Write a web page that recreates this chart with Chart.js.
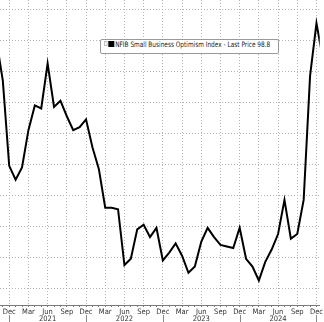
<!DOCTYPE html>
<html>
<head>
<meta charset="utf-8">
<script src="https://cdn.jsdelivr.net/npm/chart.js@4"></script>
<style>
  html, body { margin: 0; padding: 0; background: #fff; }
  #wrap { position: relative; width: 324px; height: 322px; overflow: hidden; }
  #legend {
    position: absolute; left: 100px; top: 39px; width: 177px; height: 13px;
    background: #fff; border: 1px solid #9a9a9a; border-radius: 2px;
    color: #222; white-space: nowrap; overflow: hidden;
  }
  #legend .inner {
    position: absolute; left: 3px; top: 0; line-height: 13px;
    font: 7.5px "DejaVu Sans Condensed", Arial, sans-serif;
    transform: scaleX(0.86); transform-origin: 0 50%;
  }
  #legend .mini { display: inline-block; width: 2px; height: 3px; border: 1px solid #bbb; vertical-align: 1px; margin-right: 1px; }
  #legend .box { display: inline-block; width: 7px; height: 6px; background: #000; vertical-align: 0px; margin-right: 1px; }
</style>
</head>
<body>
<div id="wrap">
  <canvas id="chart"></canvas>
  <div id="legend"><div class="inner"><span class="mini"></span><span class="box"></span>NFIB Small Business Optimism Index - Last Price 98.8</div></div>
</div>
<script>
// Monthly NFIB Small Business Optimism Index, Oct 2020 .. May 2025
const dates = [
  "2020-10", "2020-11", "2020-12",
  "2021-01", "2021-02", "2021-03", "2021-04", "2021-05", "2021-06", "2021-07", "2021-08", "2021-09", "2021-10", "2021-11", "2021-12",
  "2022-01", "2022-02", "2022-03", "2022-04", "2022-05", "2022-06", "2022-07", "2022-08", "2022-09", "2022-10", "2022-11", "2022-12",
  "2023-01", "2023-02", "2023-03", "2023-04", "2023-05", "2023-06", "2023-07", "2023-08", "2023-09", "2023-10", "2023-11", "2023-12",
  "2024-01", "2024-02", "2024-03", "2024-04", "2024-05", "2024-06", "2024-07", "2024-08", "2024-09", "2024-10", "2024-11", "2024-12",
  "2025-01", "2025-02", "2025-03", "2025-04", "2025-05",
];
const values = [
  104.0, 101.4, 95.9,
  95.0, 95.8, 98.2, 99.8, 99.6, 102.5, 99.7, 100.1, 99.1, 98.2, 98.4, 98.9,
  97.1, 95.7, 93.2, 93.2, 93.1, 89.5, 89.9, 91.8, 92.1, 91.3, 91.9, 89.8,
  90.3, 90.9, 90.1, 89.0, 89.4, 91.0, 91.9, 91.3, 90.8, 90.7, 90.6, 91.9,
  89.9, 89.4, 88.5, 89.7, 90.5, 91.5, 93.7, 91.2, 91.5, 93.7, 101.7, 105.1,
  102.8, 100.7, 97.4, 95.8, 98.8,
];
const monthNames = ["Jan", "Feb", "Mar", "Apr", "May", "Jun", "Jul", "Aug", "Sep", "Oct", "Nov", "Dec"];
const labelMonths = ["Dec", "Mar", "Jun", "Sep"]; // quarterly tick labels
const yearLabelMonth = "Jun"; // year shown under this month

// visible window (month index) and value range of the cropped view
const X_MIN = 0.56, X_MAX = 50.51;
const Y_MIN = 86.92, Y_MAX = 106.6;

const FONT = '"Liberation Sans Narrow", "DejaVu Sans Condensed", Arial, sans-serif';

function monthOf(i) {
  const d = dates[i];
  if (!d) return null;
  return monthNames[parseInt(d.slice(5), 10) - 1];
}
function yearOf(i) {
  return dates[i] ? dates[i].slice(0, 4) : "";
}

const points = values.map((v, i) => ({ x: i, y: v }));

// year separators under the December ticks
const yearSeparators = {
  id: "yearSeparators",
  afterDraw(chart) {
    const xs = chart.scales.x;
    const ctx = chart.ctx;
    ctx.save();
    ctx.strokeStyle = "#8a8a8a";
    ctx.lineWidth = 1;
    xs.ticks.forEach((t) => {
      if (monthOf(t.value) !== "Dec") return;
      const px = Math.round(xs.getPixelForValue(t.value)) + 0.5;
      ctx.beginPath();
      ctx.moveTo(px, xs.top + 10);
      ctx.lineTo(px, chart.height);
      ctx.stroke();
    });
    ctx.restore();
  },
};

new Chart(document.getElementById("chart"), {
  type: "line",
  data: {
    datasets: [
      {
        data: points,
        borderColor: "#000",
        borderWidth: 2,
        pointRadius: 0,
        tension: 0,
        fill: false,
      },
    ],
  },
  options: {
    responsive: true,
    maintainAspectRatio: false,
    animation: false,
    layout: { padding: 0 },
    plugins: { legend: { display: false }, tooltip: { enabled: false } },
    scales: {
      x: {
        type: "linear",
        min: X_MIN,
        max: X_MAX,
        afterFit: (s) => { s.height = 17; },
        ticks: {
          stepSize: 1,
          includeBounds: false,
          autoSkip: false,
          maxRotation: 0,
          padding: 1,
          color: "#333",
          font: { family: FONT, size: 7.5, lineHeight: 0.95 },
          callback: (v) => {
            const m = monthOf(v);
            if (!labelMonths.includes(m)) return "";
            return m === yearLabelMonth ? [m, yearOf(v)] : m;
          },
        },
        grid: {
          color: (c) => (c.tick && labelMonths.includes(monthOf(c.tick.value)) ? "#b4b4b4" : "rgba(0,0,0,0)"),
          tickColor: "#777",
          tickLength: 2,
          lineWidth: 1,
        },
        border: { display: true, color: "#7a7a7a", width: 1, dash: [1, 2] },
      },
      y: {
        min: Y_MIN,
        max: Y_MAX,
        ticks: { display: false, stepSize: 2, includeBounds: false },
        grid: { color: "#b4b4b4", drawTicks: false, lineWidth: 1 },
        border: { display: false, dash: [1, 2] },
      },
    },
  },
  plugins: [yearSeparators],
});
</script>
</body>
</html>
